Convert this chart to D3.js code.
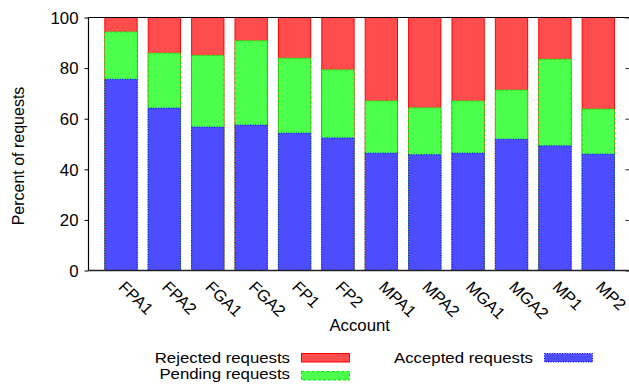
<!DOCTYPE html>
<html>
<head>
<meta charset="utf-8">
<script src="https://cdn.jsdelivr.net/npm/d3@7"></script>
<style>
  html, body { margin: 0; padding: 0; background: #fff; }
  svg { display: block; }
  text { font-family: "Liberation Sans", Arial, Helvetica, sans-serif; font-size: 16px; fill: #000; }
  .legend text { font-size: 15px; }
  .xlab text { font-size: 16px; }
</style>
</head>
<body>
<svg id="chart" width="629" height="386"></svg>
<script>
// Share of requests per account (percent), stacked: accepted / pending / rejected
const categories = ["FPA1", "FPA2", "FGA1", "FGA2", "FP1", "FP2", "MPA1", "MPA2", "MGA1", "MGA2", "MP1", "MP2"];
const accepted = [75.6, 64.2, 56.7, 57.5, 54.3, 52.4, 46.4, 45.8, 46.4, 51.9, 49.3, 46.0];
const pending  = [18.7, 21.7, 28.3, 33.3, 29.6, 26.9, 20.6, 18.5, 20.6, 19.4, 34.2, 17.8];
const rejected = [ 5.7, 14.1, 15.0,  9.2, 16.1, 20.7, 33.0, 35.7, 33.0, 28.7, 16.5, 36.2];
const yTicks = [0, 20, 40, 60, 80, 100];
const seriesNames = ["Rejected requests", "Pending requests", "Accepted requests"];

const svg = d3.select("#chart");
const plotLeft = 88.5, plotRight = 631.3, plotTop = 17.5, plotBottom = 270.5;
const sx = 1.05; // slight horizontal widening of the lettering

const x = d3.scaleBand().domain(categories).range([plotLeft - 0.5, plotRight])
  .paddingInner(0.233).paddingOuter(0.377);
const y = d3.scaleLinear().domain([0, 100]).range([plotBottom, plotTop]);

// Each column is drawn as three overlapping boxes from the baseline:
// total (red), accepted + pending (green), accepted (blue).
const rows = categories.map((c, i) => ({
  cat: c,
  layers: [
    { v: accepted[i] + pending[i] + rejected[i], fill: "#ff4d4d", stroke: "#ff0000", dash: null },
    { v: accepted[i] + pending[i], fill: "#4dff4d", stroke: "#00ee00", dash: "3,2" },
    { v: accepted[i], fill: "#4d4dff", stroke: "#0000ff", dash: "1,1.5" }
  ]
}));

const cols = svg.append("g").selectAll("g").data(rows).join("g")
  .attr("transform", d => `translate(${x(d.cat)},0)`);
cols.selectAll("rect").data(d => d.layers).join("rect")
  .attr("x", 0.5)
  .attr("width", x.bandwidth() - 1)
  .attr("y", d => y(Math.min(d.v, 100)))
  .attr("height", d => plotBottom - y(Math.min(d.v, 100)))
  .attr("fill", d => d.fill)
  .attr("stroke", d => d.stroke)
  .attr("stroke-width", 1)
  .attr("stroke-dasharray", d => d.dash);

// Frame: left, bottom and top borders
svg.append("line").attr("x1", plotLeft).attr("x2", plotLeft).attr("y1", plotTop).attr("y2", plotBottom)
  .attr("stroke", "#000").attr("stroke-width", 1.2);
svg.append("line").attr("x1", plotLeft).attr("x2", 640).attr("y1", plotBottom).attr("y2", plotBottom)
  .attr("stroke", "#222").attr("stroke-width", 1.5);
svg.append("line").attr("x1", plotLeft).attr("x2", 640).attr("y1", plotTop).attr("y2", plotTop)
  .attr("stroke", "#000").attr("stroke-width", 1.2);

// Y axis (left) with labels
const yAxis = svg.append("g").attr("transform", `translate(${plotLeft},0)`)
  .call(d3.axisLeft(y).tickValues(yTicks).tickSize(4).tickPadding(5.5).tickSizeOuter(0));
yAxis.select(".domain").remove();
yAxis.attr("font-size", null).attr("font-family", null);
yAxis.selectAll("line").attr("stroke", "#000");
yAxis.selectAll("text")
  .attr("dy", "0.36em")
  .attr("transform", `scale(${sx},1)`);

// Mirrored ticks on the right
const yAxisR = svg.append("g").attr("transform", `translate(${plotRight},0)`)
  .call(d3.axisRight(y).tickValues(yTicks).tickSize(-6).tickFormat(""));
yAxisR.select(".domain").remove();
yAxisR.selectAll("line").attr("stroke", "#333");

// X axis labels, rotated
const xAxis = svg.append("g").attr("class", "xlab").attr("transform", `translate(0,${plotBottom})`)
  .call(d3.axisBottom(x).tickSize(0));
xAxis.select(".domain").remove();
xAxis.attr("font-size", null).attr("font-family", null);
xAxis.selectAll("text")
  .attr("x", 0).attr("y", 0).attr("dy", null)
  .attr("text-anchor", "start")
  .attr("transform", `translate(-3.5,17.5) scale(${sx},1) rotate(45)`);

// Axis titles
svg.append("text")
  .attr("text-anchor", "middle")
  .attr("transform", `translate(359.7,330.7) scale(${sx},1)`)
  .text("Account");
svg.append("text")
  .attr("text-anchor", "middle")
  .attr("transform", `translate(24,156) scale(${sx},1) rotate(-90)`)
  .text("Percent of requests");

// Legend
const legendItems = [
  { name: seriesNames[0], tx: 290, ty: 363, bx: 301, by: 353, fill: "#ff4d4d", stroke: "#ff0000", dash: null },
  { name: seriesNames[1], tx: 290, ty: 379, bx: 301, by: 371, fill: "#4dff4d", stroke: "#00ee00", dash: "3,2" },
  { name: seriesNames[2], tx: 533, ty: 363, bx: 544, by: 353, fill: "#4d4dff", stroke: "#0000ff", dash: "1,1.5" }
];
const lg = svg.append("g").attr("class", "legend").selectAll("g").data(legendItems).join("g");
lg.append("text")
  .attr("text-anchor", "end")
  .attr("transform", d => `translate(${d.tx},${d.ty}) scale(1.12,1)`)
  .text(d => d.name);
lg.append("rect")
  .attr("x", d => d.bx + 0.5).attr("y", d => d.by + 0.5)
  .attr("width", 48).attr("height", 8.5)
  .attr("fill", d => d.fill).attr("stroke", d => d.stroke)
  .attr("stroke-dasharray", d => d.dash);
</script>
</body>
</html>
